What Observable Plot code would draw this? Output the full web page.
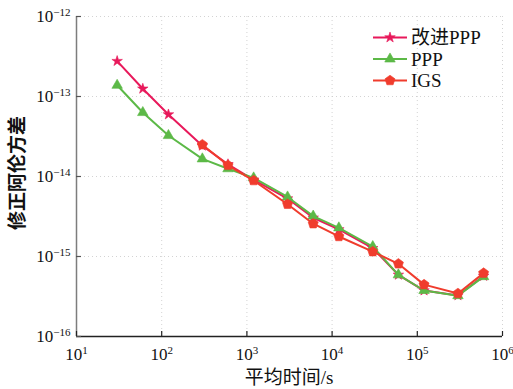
<!DOCTYPE html>
<html>
<head>
<meta charset="utf-8">
<script src="https://cdn.jsdelivr.net/npm/d3@7"></script>
<script src="https://cdn.jsdelivr.net/npm/@observablehq/plot@0.6"></script>
<style>
  html, body { margin: 0; padding: 0; background: #fff; }
  #chart svg { display: block; }
  #chart svg text { font-family: "Liberation Serif", "Noto Sans CJK SC", serif !important; fill: #111; }
  #chart svg text.tick { font-size: 17px !important; }
  #chart svg text.cjk { font-family: "Liberation Serif", "Noto Sans CJK SC", serif !important; }
  #chart svg text.ylab { font-family: "Noto Sans CJK SC", sans-serif !important; }
</style>
</head>
<body>
<div id="chart"></div>
<script>
// ---- data ----
const seriesNames = ["改进PPP", "PPP", "IGS"];
const seriesColors = ["#e8195b", "#5cb947", "#f03c2d"];
const tauAll = [30, 60, 120, 300, 600, 1200, 3000, 6000, 12000, 30000, 60000, 120000, 300000, 600000];
const improvedPPP = [2.77e-13, 1.25e-13, 5.96e-14, 2.42e-14, 1.42e-14, 9.1e-15, 5.3e-15, 3.05e-15, 2.18e-15, 1.27e-15, 5.9e-16, 3.75e-16, 3.26e-16, 5.7e-16];
const ppp = [1.38e-13, 6.3e-14, 3.25e-14, 1.66e-14, 1.25e-14, 9.6e-15, 5.55e-15, 3.2e-15, 2.28e-15, 1.33e-15, 5.9e-16, 3.76e-16, 3.24e-16, 5.6e-16];
const tauIGS = [300, 600, 1200, 3000, 6000, 12000, 30000, 60000, 120000, 300000, 600000];
const igs = [2.5e-14, 1.38e-14, 8.9e-15, 4.5e-15, 2.57e-15, 1.78e-15, 1.15e-15, 8.1e-16, 4.45e-16, 3.45e-16, 6.2e-16];
const xTicks = [1e1, 1e2, 1e3, 1e4, 1e5, 1e6];
const xTickExp = ["1", "2", "3", "4", "5", "6"];
const yTicks = [1e-16, 1e-15, 1e-14, 1e-13, 1e-12];
const yTickExp = ["−16", "−15", "−14", "−13", "−12"];
const xLabel = "平均时间/s";
const yLabel = "修正阿伦方差";

// ---- build tables ----
const rowsImp = tauAll.map((t, i) => ({tau: t, v: improvedPPP[i]}));
const rowsPPP = tauAll.map((t, i) => ({tau: t, v: ppp[i]}));
const rowsIGS = tauIGS.map((t, i) => ({tau: t, v: igs[i]}));

// pentagon symbol
const pentagon = {
  draw(context, size) {
    const r = Math.sqrt(size / 2.3776);
    for (let i = 0; i < 5; i++) {
      const a = -Math.PI / 2 + i * 2 * Math.PI / 5;
      const x = r * Math.cos(a), y = r * Math.sin(a);
      if (i === 0) context.moveTo(x, y); else context.lineTo(x, y);
    }
    context.closePath();
  }
};
const symbols = ["star", "triangle", pentagon];
const dotR = [3.3, 3.9, 4.6];

const W = 513, H = 389;
const chart = Plot.plot({
  width: W,
  height: H,
  marginLeft: 76,
  marginRight: 11,
  marginTop: 16,
  marginBottom: 53,
  style: {background: "#fff"},
  x: {type: "log", domain: [10, 1e6]},
  y: {type: "log", domain: [1e-16, 1e-12]},
  marks: [
    Plot.gridX(xTicks, {stroke: "#c8c8c8", strokeOpacity: 1, strokeDasharray: "1,3", strokeWidth: 0.8}),
    Plot.gridY(yTicks, {stroke: "#c8c8c8", strokeOpacity: 1, strokeDasharray: "1,3", strokeWidth: 0.8}),
    Plot.ruleX([10], {stroke: "#7d7d7d", strokeWidth: 1.5}),
    Plot.ruleY([1e-16], {stroke: "#222", strokeWidth: 1.5}),
    Plot.axisX(xTicks, {tickSize: -5, tickPadding: 16, stroke: "#222", strokeWidth: 1.2,
      tickFormat: (d) => "10|" + xTickExp[xTicks.indexOf(d)], label: null}),
    Plot.axisY(yTicks, {tickSize: -5, tickPadding: 11, stroke: "#555", strokeWidth: 1.2,
      tickFormat: (d) => "10|" + yTickExp[yTicks.indexOf(d)], label: null}),
    Plot.line(rowsImp, {x: "tau", y: "v", stroke: seriesColors[0], strokeWidth: 2}),
    Plot.dot(rowsImp, {x: "tau", y: "v", symbol: symbols[0], r: dotR[0], fill: seriesColors[0], stroke: seriesColors[0], strokeWidth: 0.6}),
    Plot.line(rowsPPP, {x: "tau", y: "v", stroke: seriesColors[1], strokeWidth: 2}),
    Plot.dot(rowsPPP, {x: "tau", y: "v", symbol: symbols[1], r: dotR[1], fill: seriesColors[1], stroke: seriesColors[1], strokeWidth: 0.6}),
    Plot.line(rowsIGS, {x: "tau", y: "v", stroke: seriesColors[2], strokeWidth: 2}),
    Plot.dot(rowsIGS, {x: "tau", y: "v", symbol: symbols[2], r: dotR[2], fill: seriesColors[2], stroke: seriesColors[2], strokeWidth: 0.6})
  ]
});

// superscript tick labels
function superscript(sel) {
  chart.querySelectorAll(sel).forEach(t => {
    const s = t.textContent;
    if (!s.includes("|")) return;
    const [base, exp] = s.split("|");
    t.textContent = "";
    t.setAttribute("class", "tick");
    const ns = "http://www.w3.org/2000/svg";
    const b = document.createElementNS(ns, "tspan");
    b.textContent = base;
    const e = document.createElementNS(ns, "tspan");
    e.textContent = exp;
    e.setAttribute("dy", "-0.5em");
    e.setAttribute("style", "font-size:11px");
    t.appendChild(b);
    t.appendChild(e);
  });
}
superscript('[aria-label="x-axis tick label"] text');
superscript('[aria-label="y-axis tick label"] text');

const svg = d3.select(chart);
// axis titles
svg.append("text")
  .attr("class", "cjk")
  .attr("x", 289).attr("y", 384)
  .attr("text-anchor", "middle")
  .style("font-size", "19px")
  .text(xLabel);
svg.append("text")
  .attr("class", "ylab")
  .attr("transform", "translate(24,173) rotate(-90)")
  .attr("text-anchor", "middle")
  .style("font-size", "19px").style("font-weight", "bold")
  .text(yLabel);

// legend
const legendRows = [37.5, 59, 80.5];
const lg = svg.append("g").attr("aria-label", "legend");
const d3Symbols = [d3.symbolStar, d3.symbolTriangle, pentagon];
seriesNames.forEach((name, i) => {
  const y = legendRows[i];
  lg.append("line").attr("x1", 373).attr("x2", 407).attr("y1", y).attr("y2", y)
    .attr("stroke", seriesColors[i]).attr("stroke-width", 2);
  lg.append("path")
    .attr("transform", `translate(390,${y})`)
    .attr("d", d3.symbol(d3Symbols[i], Math.PI * dotR[i] * dotR[i])())
    .attr("fill", seriesColors[i]).attr("stroke", seriesColors[i]).attr("stroke-width", 0.6);
  lg.append("text").attr("class", "cjk").attr("x", 411).attr("y", y).attr("dy", "0.35em")
    .attr("text-anchor", "start")
    .style("font-size", "19px")
    .text(name);
});

document.getElementById("chart").appendChild(chart);
</script>
</body>
</html>
